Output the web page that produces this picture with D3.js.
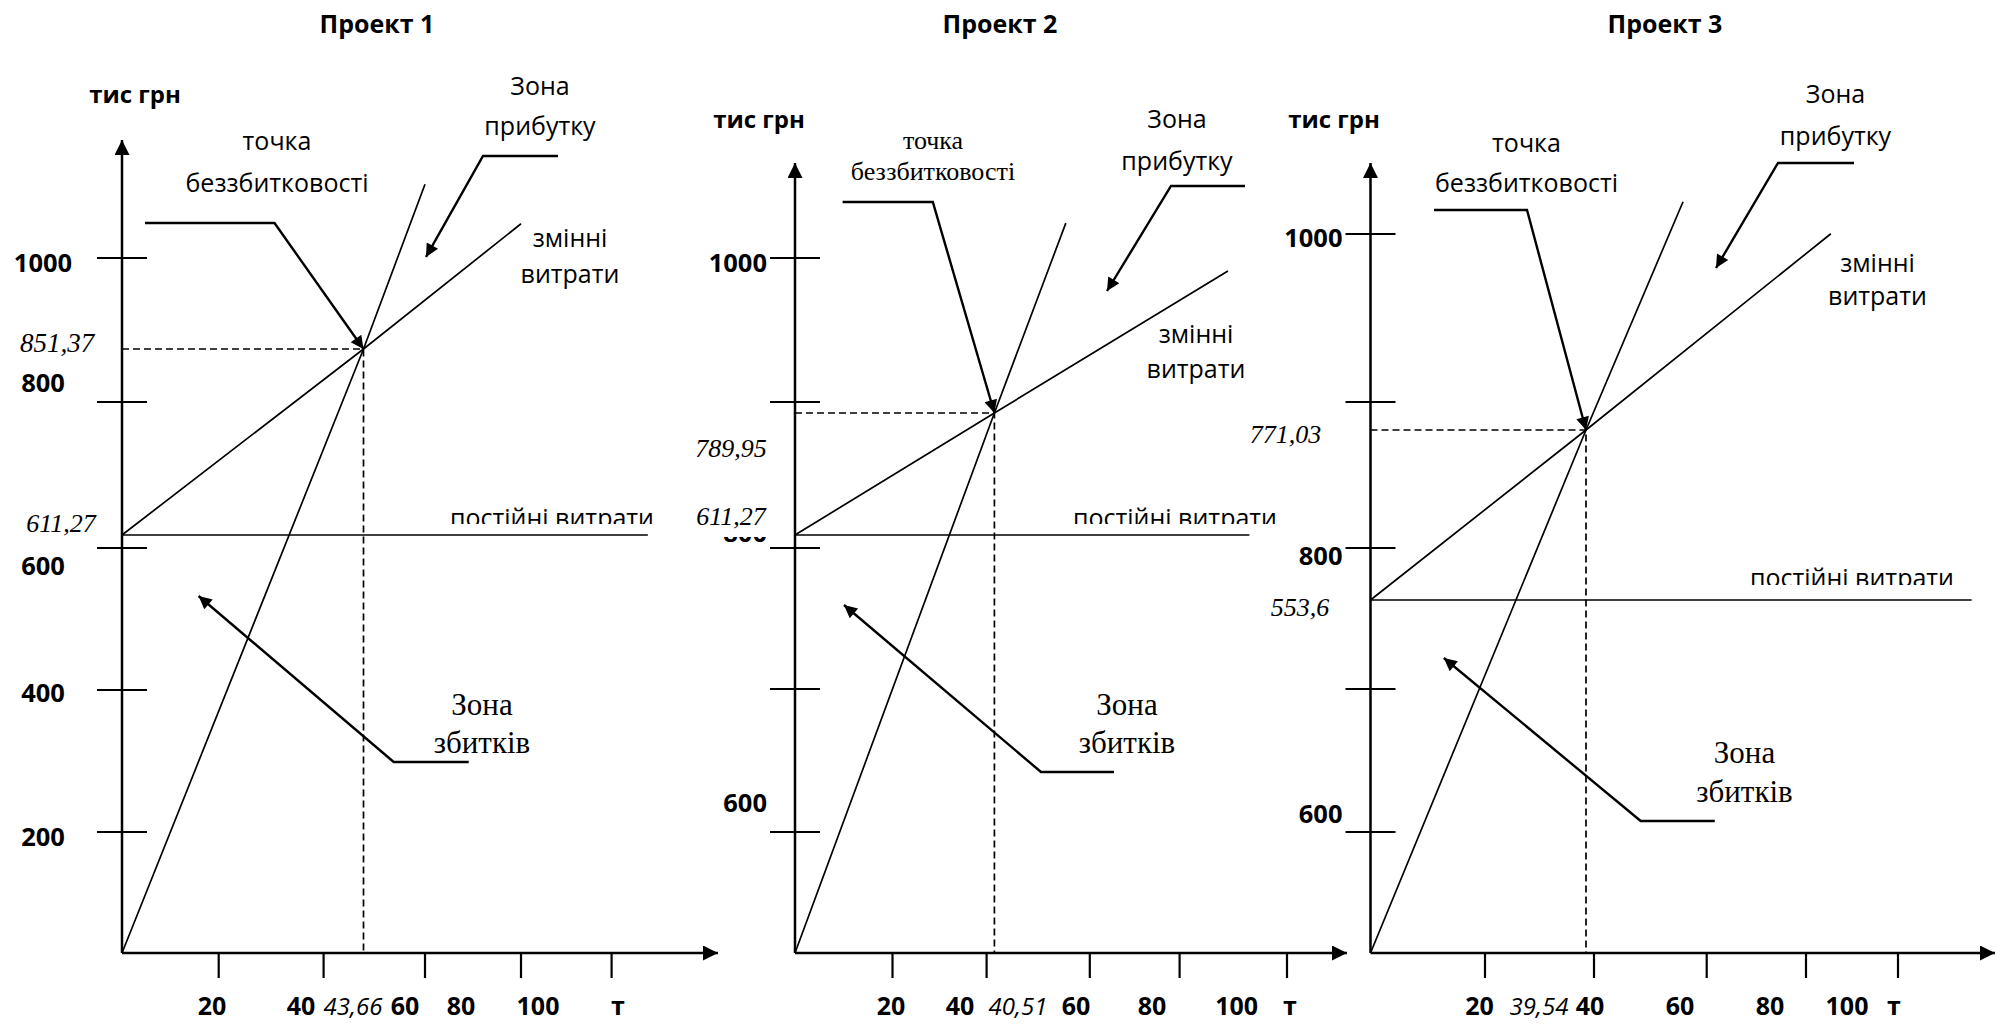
<!DOCTYPE html>
<html>
<head>
<meta charset="utf-8">
<script src="https://cdn.jsdelivr.net/npm/d3@7"></script>
<style>
  html, body { margin: 0; padding: 0; background: #fff; }
  svg { display: block; background: #fff; }
</style>
</head>
<body>
<svg id="chart" width="2004" height="1025"></svg>
<script>
// ---------------- DATA ----------------
const projectTitles   = ["Проект 1", "Проект 2", "Проект 3"];
const fixedCosts      = [611.27, 611.27, 553.6];      // тис грн
const breakEvenQty    = [43.66, 40.51, 39.54];        // т
const breakEvenValue  = [851.37, 789.95, 771.03];     // тис грн
const revenueEndQty   = [60, 55.1, 55.8];
const revenueEndValue = [1064, 1068, 1063];
const costEndQty      = [80, 89, 85.4];
const costEndValue    = [1013, 998, 1022];
const fixedEndQty     = [108, 93, 116];

const xTickValues = [20, 40, 60, 80, 100];
const xTickLabels = ["20", "40", "60", "80", "100"];
const yTickValues = [[200, 400, 600, 800, 1000], [600, 700, 800, 900, 1000], [600, 700, 800, 900, 1000]];
const yTickLabels = [["200", "400", "600", "800", "1000"], ["600", "", "800", "", "1000"], ["600", "", "800", "", "1000"]];

const yAxisTitle       = "тис грн";
const xAxisUnit        = "т";
const breakEvenText    = ["точка", "беззбитковості"];
const profitZoneText   = ["Зона", "прибутку"];
const lossZoneText     = ["Зона", "збитків"];
const variableCostText = ["змінні", "витрати"];
const fixedCostText    = "постійні витрати";

// ---------------- LAYOUT / STYLE ----------------
const SANS  = "'Open Sans', 'Noto Sans', 'DejaVu Sans', sans-serif";
const SERIF = "'Liberation Serif', 'DejaVu Serif', serif";

const layout = [
  { ox: 122, oy: 953,
    xRange: [0, 96.7, 201.6, 241.5, 303, 399, 489.6],
    xLabelRange: [90, 179, 231, 283, 339, 416], unitX: 496,
    yTickRange: [-121, -263, -405, -551, -695],
    yLabelBase: [-107, -251, -378, -561, -681], yLabelX: -79, yLabelAnchor: "middle",
    yData: [0, -418, -604],
    yAxisTop: -813, xAxisEnd: 596,
    title: [255, -920], axisTitle: [13, -850],
    beValueLabel: [-65, -601, 27], fixedValueLabel: [-61, -421, 26], mask: null,
    fixedText: { x: 430, base: -426, clip: -429 },
    beText: { x: 155, base: [-803, -761], font: SANS, size: 25 },
    bePointer: [[23, -730], [152.5, -730]],
    profitText: { x: 418, base: [-858, -818] },
    profitPointer: [[436, -797], [361, -797], [304, -696]],
    varText: { x: 448, base: [-706, -670] },
    lossText: { x: 360, base: [-238, -200] },
    lossPointer: [[346.7, -191], [271.7, -191], [76.6, -357]] },
  { ox: 795, oy: 953,
    xRange: [0, 97.5, 191.6, 199.4, 294.8, 384.6, 492],
    xLabelRange: [96, 165, 223, 281, 357, 441.6], unitX: 495,
    yTickRange: [-121, -264, -405, -551, -695],
    yLabelBase: [-141, 0, -411, 0, -681], yLabelX: -28, yLabelAnchor: "end",
    yData: [0, -418, -540],
    yAxisTop: -790, xAxisEnd: 552,
    title: [205, -920], axisTitle: [-36, -825],
    beValueLabel: [-64, -496, 26], fixedValueLabel: [-64, -428, 26], mask: [-108, -452, 82, 36],
    fixedText: { x: 380, base: -426, clip: -429 },
    beText: { x: 138, base: [-804, -773], font: SERIF, size: 26 },
    bePointer: [[47.6, -751], [137.8, -751]],
    profitText: { x: 382, base: [-825, -783] },
    profitPointer: [[450, -767], [376, -767], [312, -662]],
    varText: { x: 401, base: [-610, -575] },
    lossText: { x: 332, base: [-238, -200] },
    lossPointer: [[319, -181], [246, -181], [49, -348]] },
  { ox: 1370.5, oy: 953,
    xRange: [0, 114.5, 215.5, 223.5, 336.2, 435.5, 527.5],
    xLabelRange: [109, 168.5, 219.5, 309.5, 399.5, 476.5], unitX: 523.5,
    yTickRange: [-121, -264, -405, -551, -719],
    yLabelBase: [-130, 0, -388, 0, -706], yLabelX: -28, yLabelAnchor: "end",
    yData: [0, -353, -523],
    yAxisTop: -790, xAxisEnd: 624.5,
    title: [294.5, -920], axisTitle: [-36.5, -825],
    beValueLabel: [-85, -510, 26], fixedValueLabel: [-70.5, -337, 26], mask: null,
    fixedText: { x: 481.5, base: -366, clip: -368 },
    beText: { x: 156, base: [-801, -761], font: SANS, size: 25 },
    bePointer: [[63.5, -743], [156.5, -743]],
    profitText: { x: 465, base: [-850, -808] },
    profitPointer: [[483.5, -790], [407.5, -790], [345.5, -685]],
    varText: { x: 507, base: [-681, -648] },
    lossText: { x: 374, base: [-190, -151] },
    lossPointer: [[344.3, -132], [270.2, -132], [73.3, -295]] }
];

const fmt = v => String(v).replace(".", ",");

// ---------------- DRAW ----------------
const svg = d3.select("#chart");
const defs = svg.append("defs");

function addMarker(id, len, wid) {
  defs.append("marker")
    .attr("id", id).attr("viewBox", "0 0 10 10")
    .attr("refX", 10).attr("refY", 5)
    .attr("markerUnits", "userSpaceOnUse")
    .attr("markerWidth", len).attr("markerHeight", wid)
    .attr("orient", "auto")
    .append("path").attr("d", "M0,0L10,5L0,10Z").attr("fill", "#000");
}
addMarker("axisArrow", 16, 15);
addMarker("ptrArrow", 17, 13);

function txt(g, s, x, y, o) {
  return g.append("text")
    .attr("x", x).attr("y", y)
    .attr("text-anchor", o.anchor || "middle")
    .style("font-family", o.font)
    .style("font-size", o.size + "px")
    .style("font-weight", o.weight || 400)
    .style("font-style", o.style || "normal")
    .attr("fill", "#000")
    .text(s);
}

const plain = d3.line();

projectTitles.forEach((title, i) => {
  const L = layout[i];
  const g = svg.append("g").attr("transform", `translate(${L.ox},${L.oy})`);

  // scales
  const x = d3.scaleLinear()
    .domain([0, ...xTickValues, breakEvenQty[i]].sort((a, b) => a - b))
    .range(L.xRange);
  const xLab = d3.scaleLinear()
    .domain([...xTickValues, breakEvenQty[i]].sort((a, b) => a - b))
    .range(L.xLabelRange);
  const yTick = d3.scaleLinear().domain(yTickValues[i]).range(L.yTickRange);
  const y = d3.scaleLinear().domain([0, fixedCosts[i], breakEvenValue[i]]).range(L.yData);
  const line = d3.line().x(d => x(d[0])).y(d => y(d[1]));

  // title & axis title
  txt(g, title, L.title[0], L.title[1], { font: SANS, size: 25, weight: 700 });
  txt(g, yAxisTitle, L.axisTitle[0], L.axisTitle[1], { font: SANS, size: 24, weight: 700 });

  // y ticks + labels
  g.selectAll(".ytick").data(yTickValues[i]).join("line")
    .attr("x1", -25).attr("x2", 25)
    .attr("y1", d => yTick(d)).attr("y2", d => yTick(d))
    .attr("stroke", "#000").attr("stroke-width", 2.2);
  yTickLabels[i].forEach((lab, k) => {
    if (lab) txt(g, lab, L.yLabelX, L.yLabelBase[k], { font: SANS, size: 25.5, weight: 700, anchor: L.yLabelAnchor });
  });

  // x ticks + labels
  g.selectAll(".xtick").data(xTickValues).join("line")
    .attr("x1", d => x(d)).attr("x2", d => x(d))
    .attr("y1", 0).attr("y2", 25)
    .attr("stroke", "#000").attr("stroke-width", 2.2);
  xTickValues.forEach((v, k) => txt(g, xTickLabels[k], xLab(v), 62, { font: SANS, size: 25, weight: 700 }));
  txt(g, fmt(breakEvenQty[i]), xLab(breakEvenQty[i]), 62, { font: SANS, size: 24, style: "italic" });
  txt(g, xAxisUnit, L.unitX, 62, { font: SANS, size: 25, weight: 700 });

  // axes
  g.append("line").attr("x1", 0).attr("y1", 0).attr("x2", 0).attr("y2", L.yAxisTop)
    .attr("stroke", "#000").attr("stroke-width", 2.5).attr("marker-end", "url(#axisArrow)");
  g.append("line").attr("x1", 0).attr("y1", 0).attr("x2", L.xAxisEnd).attr("y2", 0)
    .attr("stroke", "#000").attr("stroke-width", 2.5).attr("marker-end", "url(#axisArrow)");

  // value labels
  if (L.mask) g.append("rect").attr("x", L.mask[0]).attr("y", L.mask[1])
    .attr("width", L.mask[2]).attr("height", L.mask[3]).attr("fill", "#fff");
  txt(g, fmt(fixedCosts[i]), L.fixedValueLabel[0], L.fixedValueLabel[1], { font: SERIF, size: L.fixedValueLabel[2], style: "italic" });
  txt(g, fmt(breakEvenValue[i]), L.beValueLabel[0], L.beValueLabel[1], { font: SERIF, size: L.beValueLabel[2], style: "italic" });

  // fixed cost text (clipped at the bottom as in the source)
  const cid = "clipFixed" + i;
  defs.append("clipPath").attr("id", cid).append("rect")
    .attr("x", -200).attr("y", -1000).attr("width", 1000).attr("height", 1000 + L.fixedText.clip);
  txt(g, fixedCostText, L.fixedText.x, L.fixedText.base, { font: SANS, size: 25 })
    .attr("clip-path", `url(#${cid})`);

  // data lines
  const Qbe = breakEvenQty[i], Rbe = breakEvenValue[i], F = fixedCosts[i];
  g.append("path").attr("d", line([[0, F], [fixedEndQty[i], F]]))
    .attr("fill", "none").attr("stroke", "#000").attr("stroke-width", 1.7);
  g.append("path").attr("d", line([[0, 0], [Qbe, Rbe], [revenueEndQty[i], revenueEndValue[i]]]))
    .attr("fill", "none").attr("stroke", "#000").attr("stroke-width", 1.7);
  g.append("path").attr("d", line([[0, F], [Qbe, Rbe], [costEndQty[i], costEndValue[i]]]))
    .attr("fill", "none").attr("stroke", "#000").attr("stroke-width", 1.7);
  g.append("path").attr("d", line([[0, Rbe], [Qbe, Rbe], [Qbe, 0]]))
    .attr("fill", "none").attr("stroke", "#000").attr("stroke-width", 1.7)
    .attr("stroke-dasharray", "7,4");

  // annotations: break-even point
  breakEvenText.forEach((s, k) => txt(g, s, L.beText.x, L.beText.base[k], { font: L.beText.font, size: L.beText.size }));
  g.append("path").attr("d", plain([...L.bePointer, [x(Qbe), y(Rbe)]]))
    .attr("fill", "none").attr("stroke", "#000").attr("stroke-width", 2.4)
    .attr("marker-end", "url(#ptrArrow)");

  // profit zone
  profitZoneText.forEach((s, k) => txt(g, s, L.profitText.x, L.profitText.base[k], { font: SANS, size: 25 }));
  g.append("path").attr("d", plain(L.profitPointer))
    .attr("fill", "none").attr("stroke", "#000").attr("stroke-width", 2.4)
    .attr("marker-end", "url(#ptrArrow)");

  // variable costs
  variableCostText.forEach((s, k) => txt(g, s, L.varText.x, L.varText.base[k], { font: SANS, size: 25 }));

  // loss zone
  lossZoneText.forEach((s, k) => txt(g, s, L.lossText.x, L.lossText.base[k], { font: SERIF, size: 31 }));
  g.append("path").attr("d", plain(L.lossPointer))
    .attr("fill", "none").attr("stroke", "#000").attr("stroke-width", 2.4)
    .attr("marker-end", "url(#ptrArrow)");
});
</script>
</body>
</html>
